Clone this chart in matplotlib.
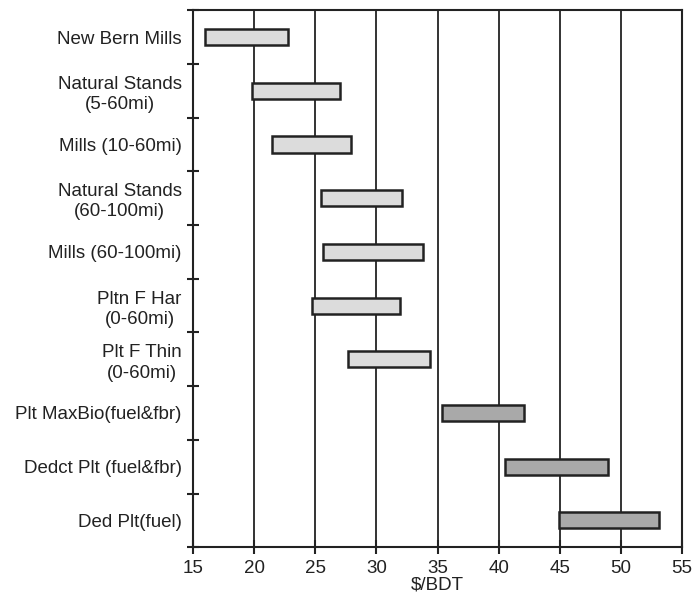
import matplotlib
matplotlib.use("Agg")
import matplotlib.pyplot as plt
import numpy as np

plt.rcParams["font.family"] = ["Liberation Sans", "DejaVu Sans"]

categories = ["New Bern Mills", "Natural Stands\n(5-60mi)", "Mills (10-60mi)",
              "Natural Stands\n(60-100mi)", "Mills (60-100mi)", "Pltn F Har\n(0-60mi)",
              "Plt F Thin\n(0-60mi)", "Plt MaxBio(fuel&fbr)", "Dedct Plt (fuel&fbr)",
              "Ded Plt(fuel)"]
low = [16.0, 19.8, 21.5, 25.5, 25.6, 24.7, 27.7, 35.4, 40.5, 44.9]
high = [22.8, 27.0, 27.9, 32.1, 33.8, 31.9, 34.4, 42.1, 48.9, 53.1]
dark = [False] * 7 + [True] * 3

fig = plt.figure(figsize=(6.94, 6.02), dpi=100)
ax = fig.add_axes([0.278, 0.091, 0.705, 0.892])

y = np.arange(len(categories))
widths = np.array(high) - np.array(low)
colors = ["#a9a9a9" if d else "#dcdcdc" for d in dark]
ax.barh(y, widths, left=low, height=0.3, color=colors, edgecolor="#222222",
        linewidth=1.8, zorder=3)

ax.set_xlim(15, 55)
ax.set_ylim(len(categories) - 0.5, -0.5)
ax.set_xticks(range(15, 56, 5))
ax.set_yticks(y)
ax.set_yticklabels(categories, fontsize=13.5, ha="right", multialignment="center",
                   linespacing=1.25, color="#222222")
ax.set_yticks(np.arange(-0.5, len(categories), 1), minor=True)
ax.tick_params(axis="y", which="major", length=0, pad=8)
ax.tick_params(axis="y", which="minor", direction="inout", length=8, width=1.5, color="#222222")
ax.tick_params(axis="x", direction="inout", length=10, width=1.5, color="#222222",
               labelsize=13.5, labelcolor="#222222", pad=4)

for xv in range(20, 55, 5):
    ax.axvline(xv, color="#333333", linewidth=1.4, zorder=1)

for s in ax.spines.values():
    s.set_linewidth(1.5)
    s.set_color("#222222")

ax.set_xlabel("\\$/BDT", fontsize=13.5, color="#222222", labelpad=0)

fig.savefig("out.png", dpi=100)
